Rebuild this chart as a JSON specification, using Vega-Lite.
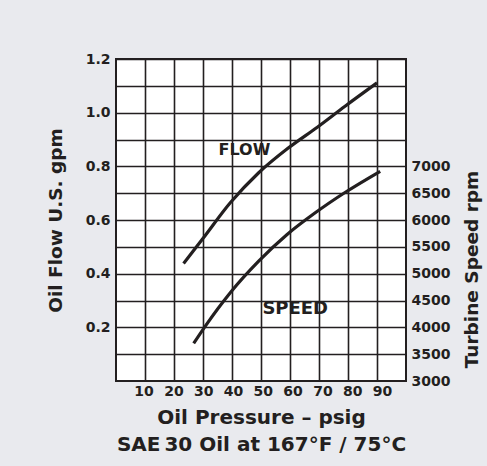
{
  "$schema": "https://vega.github.io/schema/vega-lite/v6.json",
  "width": 290,
  "height": 322,
  "autosize": {"type": "none"},
  "padding": {"left": 116, "top": 59, "right": 81, "bottom": 85},
  "background": "#e9eaee",
  "config": {
    "view": {"stroke": "#231f20", "strokeWidth": 2, "fill": "white"},
    "font": "DejaVu Sans",
    "axis": {
      "labelFont": "DejaVu Sans",
      "labelFontWeight": "bold",
      "labelColor": "#231f20",
      "titleFont": "DejaVu Sans",
      "titleFontWeight": "bold",
      "titleColor": "#231f20",
      "domain": false,
      "ticks": false,
      "gridColor": "#231f20",
      "gridOpacity": 1,
      "gridWidth": 1.6,
      "labelOverlap": false
    }
  },
  "datasets": {
    "flow": [
      {"pressure": 23.3, "flow": 0.438},
      {"pressure": 29.7, "flow": 0.527},
      {"pressure": 39.4, "flow": 0.664},
      {"pressure": 49.2, "flow": 0.776},
      {"pressure": 59.5, "flow": 0.869},
      {"pressure": 69.3, "flow": 0.945},
      {"pressure": 79.1, "flow": 1.025},
      {"pressure": 90.0, "flow": 1.111}
    ],
    "speed": [
      {"pressure": 26.8, "speed": 3702},
      {"pressure": 30.8, "speed": 4023},
      {"pressure": 39.4, "speed": 4645},
      {"pressure": 49.2, "speed": 5233},
      {"pressure": 59.0, "speed": 5730},
      {"pressure": 68.7, "speed": 6134},
      {"pressure": 79.1, "speed": 6517},
      {"pressure": 91.1, "speed": 6908}
    ],
    "labels": [
      {"pressure": 44.3, "flow": 0.86, "label": "FLOW"},
      {"pressure": 61.8, "flow": 0.267, "label": "SPEED"}
    ]
  },
  "layer": [
    {
      "data": {"name": "flow"},
      "mark": {"type": "line", "interpolate": "monotone", "color": "#231f20", "strokeWidth": 3.2},
      "encoding": {
        "x": {
          "field": "pressure", "type": "quantitative",
          "scale": {"domain": [0, 100], "nice": false},
          "axis": {
            "orient": "bottom",
            "values": [10, 20, 30, 40, 50, 60, 70, 80, 90],
            "labels": false,
            "title": null
          }
        },
        "y": {
          "field": "flow", "type": "quantitative",
          "scale": {"domain": [0, 1.2], "nice": false, "zero": false},
          "axis": {
            "orient": "left",
            "values": [0.1, 0.2, 0.3, 0.4, 0.5, 0.6, 0.7, 0.8, 0.9, 1.0, 1.1, 1.2],
            "labelExpr": "round(datum.value*10) % 2 == 0 ? format(datum.value, '.1f') : ''",
            "labelFontSize": 14,
            "labelPadding": 6,
            "title": "Oil Flow U.S. gpm",
            "titleFontSize": 18.5,
            "titlePadding": 20
          }
        }
      }
    },
    {
      "data": {"name": "speed"},
      "mark": {"type": "line", "interpolate": "monotone", "color": "#231f20", "strokeWidth": 3.2},
      "encoding": {
        "x": {"field": "pressure", "type": "quantitative", "scale": {"domain": [0, 100], "nice": false}, "axis": null},
        "y": {
          "field": "speed", "type": "quantitative",
          "scale": {"domain": [3000, 9000], "nice": false, "zero": false},
          "axis": {
            "orient": "right",
            "values": [3000, 3500, 4000, 4500, 5000, 5500, 6000, 6500, 7000],
            "format": "d",
            "grid": false,
            "labelFontSize": 14,
            "labelPadding": 5,
            "title": "Turbine Speed rpm",
            "titleFontSize": 18.5,
            "titleAngle": 270,
            "titlePadding": 32,
            "titleY": 210
          }
        }
      }
    },
    {
      "data": {"name": "labels"},
      "transform": [{"filter": "datum.label == 'FLOW'"}],
      "mark": {"type": "text", "font": "DejaVu Sans", "fontWeight": "bold", "fontSize": 16, "color": "#231f20", "align": "center", "baseline": "middle"},
      "encoding": {
        "x": {"field": "pressure", "type": "quantitative", "scale": {"domain": [0, 100], "nice": false}, "axis": null},
        "y": {"field": "flow", "type": "quantitative", "scale": {"domain": [0, 1.2], "nice": false, "zero": false}, "axis": null},
        "text": {"field": "label"}
      }
    },
    {
      "data": {"name": "labels"},
      "transform": [{"filter": "datum.label == 'SPEED'"}],
      "mark": {"type": "text", "font": "DejaVu Sans", "fontWeight": "bold", "fontSize": 18, "color": "#231f20", "align": "center", "baseline": "middle"},
      "encoding": {
        "x": {"field": "pressure", "type": "quantitative", "scale": {"domain": [0, 100], "nice": false}, "axis": null},
        "y": {"field": "flow", "type": "quantitative", "scale": {"domain": [0, 1.2], "nice": false, "zero": false}, "axis": null},
        "text": {"field": "label"}
      }
    },
    {
      "data": {"name": "labels"},
      "mark": {"type": "point", "opacity": 0},
      "encoding": {
        "x": {
          "field": "pressure", "type": "quantitative",
          "scale": {"domain": [0.74, 98.05], "nice": false, "zero": false},
          "axis": {
            "orient": "bottom",
            "values": [10, 20, 30, 40, 50, 60, 70, 80, 90],
            "grid": false,
            "labelFontSize": 14,
            "labelPadding": 3,
            "title": ["Oil Pressure – psig", "SAE\u200930 Oil at 167°F / 75°C"],
            "titleFontSize": 20,
            "titlePadding": 9,
            "titleLineHeight": 27,
            "titleX": 145
          }
        },
        "y": {"field": "flow", "type": "quantitative", "scale": {"domain": [0, 1.2], "nice": false, "zero": false}, "axis": null}
      }
    }
  ],
  "resolve": {"scale": {"x": "independent", "y": "independent"}}
}
